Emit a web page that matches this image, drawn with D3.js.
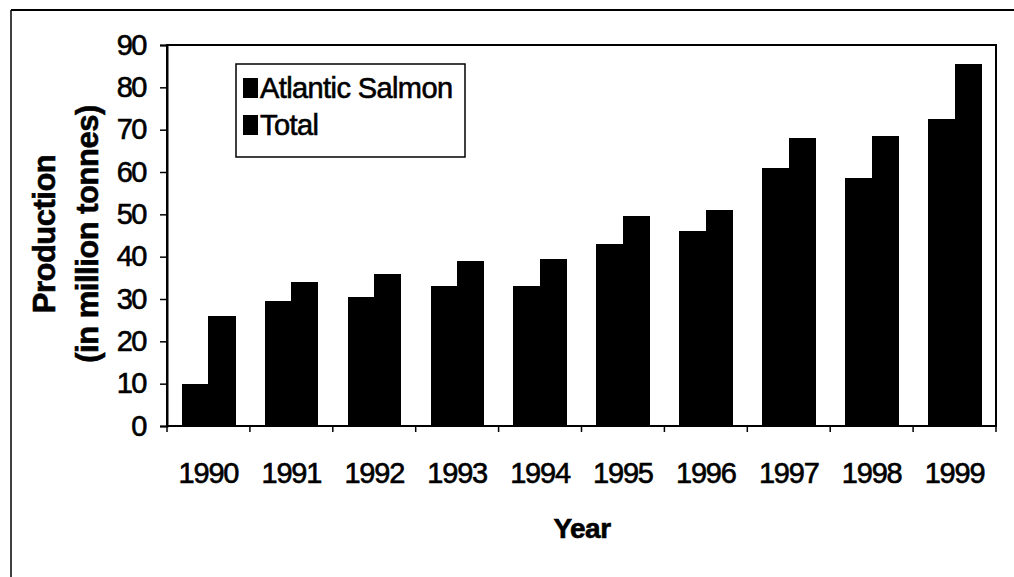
<!DOCTYPE html>
<html>
<head>
<meta charset="utf-8">
<script src="https://cdn.jsdelivr.net/npm/d3@7"></script>
<style>
  html, body { margin: 0; padding: 0; background: #fff; }
  svg { display: block; }
  text { font-family: "Liberation Sans", Arial, sans-serif; fill: #000; stroke: #000; stroke-width: 0.6px; }
</style>
</head>
<body>
<svg id="chart" width="1014" height="577"></svg>
<script>
// Salmon production by year
const years = ["1990","1991","1992","1993","1994","1995","1996","1997","1998","1999"];
const seriesNames = ["Atlantic Salmon", "Total"];
const atlanticSalmon = [10, 29.5, 30.5, 33, 33, 43, 46, 61, 58.5, 72.5];
const total = [26, 34, 36, 39, 39.5, 49.5, 51, 68, 68.5, 85.5];
const yTicks = [0, 10, 20, 30, 40, 50, 60, 70, 80, 90];

const svg = d3.select("#chart");
const W = 1014, H = 577;
const plot = { left: 167, right: 996, top: 45, bottom: 426 };

// outer frame (top and left edges)
svg.append("line").attr("x1", 11).attr("x2", W).attr("y1", 10).attr("y2", 10)
  .attr("stroke", "#000").attr("stroke-width", 2);
svg.append("line").attr("x1", 11).attr("x2", 11).attr("y1", 10).attr("y2", H)
  .attr("stroke", "#000").attr("stroke-width", 1.5);

const x0 = d3.scaleBand().domain(years).range([plot.left, plot.right]).paddingInner(0).paddingOuter(0);
const x1 = d3.scaleBand().domain(seriesNames).range([0, x0.bandwidth()]).paddingInner(0).paddingOuter(0.56);
const y = d3.scaleLinear().domain([0, 90]).range([plot.bottom, plot.top]);

const rows = years.map((yr, i) => ({ year: yr, values: [atlanticSalmon[i], total[i]] }));

// bars
const groups = svg.append("g").attr("shape-rendering", "crispEdges")
  .selectAll("g").data(rows).join("g")
  .attr("transform", d => `translate(${x0(d.year)},0)`);
groups.selectAll("rect")
  .data(d => d.values.map((v, k) => ({ name: seriesNames[k], value: v })))
  .join("rect")
  .attr("x", d => x1(d.name))
  .attr("y", d => y(d.value))
  .attr("width", x1.bandwidth() + 0.5)
  .attr("height", d => y(0) - y(d.value))
  .attr("fill", "#000");

// plot area border
svg.append("rect")
  .attr("x", plot.left).attr("y", plot.top)
  .attr("width", plot.right - plot.left).attr("height", plot.bottom - plot.top)
  .attr("fill", "none").attr("stroke", "#000").attr("stroke-width", 2);

// y axis
const yAxis = d3.axisLeft(y).tickValues(yTicks).tickSize(7).tickPadding(14).tickFormat(d3.format("d"));
const gy = svg.append("g").attr("transform", `translate(${plot.left},0)`).call(yAxis);
gy.select(".domain").attr("stroke", "#000").attr("stroke-width", 2);
gy.selectAll(".tick line").attr("stroke", "#000").attr("stroke-width", 1.5);
gy.selectAll(".tick text").attr("font-size", 29).attr("letter-spacing", -1.5)
  .attr("font-family", "Liberation Sans, Arial, sans-serif").attr("fill", "#000");

// x axis: ticks at category boundaries, labels centred in bands
const xBound = d3.scaleLinear().domain([0, years.length]).range([plot.left, plot.right]);
const gx = svg.append("g").attr("transform", `translate(0,${plot.bottom})`);
gx.selectAll("line").data(d3.range(years.length + 1)).join("line")
  .attr("x1", d => xBound(d)).attr("x2", d => xBound(d))
  .attr("y1", 0).attr("y2", 6).attr("stroke", "#000").attr("stroke-width", 1.5);
gx.selectAll("text").data(years).join("text")
  .attr("x", d => x0(d) + x0.bandwidth() / 2)
  .attr("y", 57)
  .attr("text-anchor", "middle")
  .attr("font-size", 29).attr("letter-spacing", -1.2)
  .text(d => d);

// axis titles
svg.append("text").attr("x", 582).attr("y", 538).attr("text-anchor", "middle")
  .attr("font-size", 28).attr("font-weight", "bold").attr("letter-spacing", -0.5).text("Year");

const yt = svg.append("g").attr("transform", "translate(0,234) rotate(-90)");
yt.append("text").attr("x", 0).attr("y", 55).attr("text-anchor", "middle")
  .attr("font-size", 31).attr("font-weight", "bold").attr("letter-spacing", -0.5).text("Production");
yt.append("text").attr("x", 0).attr("y", 98).attr("text-anchor", "middle")
  .attr("font-size", 31).attr("font-weight", "bold").attr("letter-spacing", -0.5).text("(in million tonnes)");

// legend
const lg = svg.append("g").attr("transform", "translate(236,64)");
lg.append("rect").attr("width", 229).attr("height", 93)
  .attr("fill", "#fff").attr("stroke", "#000").attr("stroke-width", 1.5);
const items = lg.selectAll("g").data(seriesNames).join("g")
  .attr("transform", (d, i) => `translate(7,${14 + i * 37})`);
items.append("rect").attr("width", 15).attr("height", 20).attr("fill", "#000");
items.append("text").attr("x", 17).attr("y", 20)
  .attr("font-size", 29).attr("letter-spacing", -0.6).text(d => d);
</script>
</body>
</html>
